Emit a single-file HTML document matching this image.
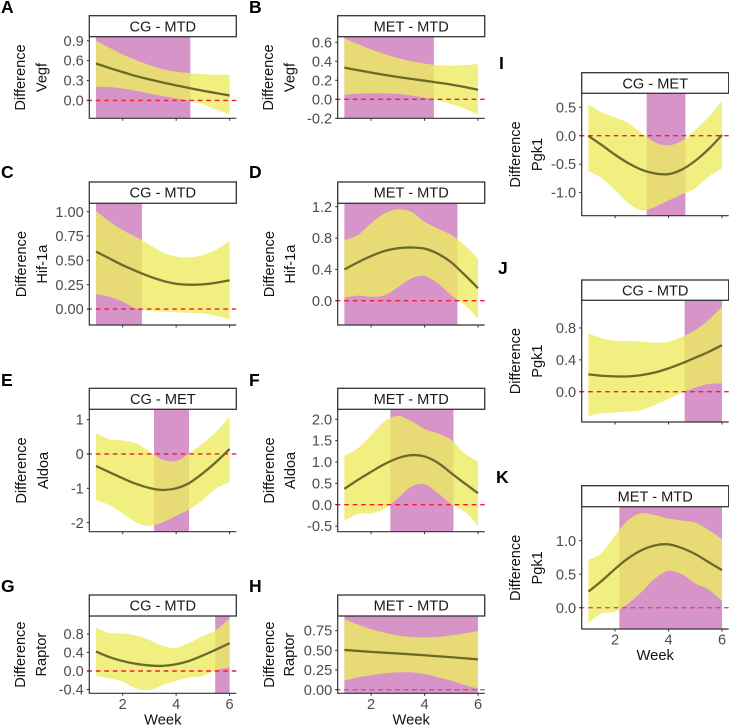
<!DOCTYPE html>
<html>
<head>
<meta charset="utf-8">
<title>Difference by week panels</title>
<style>
html,body{margin:0;padding:0;background:#fff;}
svg{display:block;font-family:"Liberation Sans",sans-serif;}
</style>
</head>
<body>
<svg id="figure" xmlns="http://www.w3.org/2000/svg" width="729" height="725" viewBox="0 0 729 725"></svg>
<script>
const weeks = [1,1.5,2,2.5,3,3.5,4,4.5,5,5.5,6];
const xTicks = [2,4,6];

const fitA = [.557,.49,.427,.367,.317,.27,.226,.186,.146,.11,.075];
const upperA = [.9,.794,.693,.608,.533,.472,.432,.412,.397,.387,.387];
const lowerA = [.206,.2,.18,.146,.105,.065,.03,-.005,-.06,-.136,-.21];
const sigA = [1,4.53];
const ticksA = ["0.0","0.3","0.6","0.9"];
const domainA = [-.27,.961];

const fitB = [.333,.307,.281,.257,.235,.215,.196,.176,.155,.13,.1];
const upperB = [.642,.582,.526,.477,.435,.4,.375,.358,.354,.36,.372];
const lowerB = [.046,.06,.063,.063,.056,.04,.018,-.012,-.05,-.1,-.16];
const sigB = [1,4.35];
const ticksB = ["-0.2","0.0","0.2","0.4","0.6"];
const domainB = [-.2,.659];

const fitC = [.59,.52,.45,.39,.335,.29,.26,.25,.253,.27,.295];
const upperC = [1.01,.9,.81,.74,.66,.58,.54,.53,.555,.61,.7];
const lowerC = [.155,.127,.075,.007,-.017,-.027,-.034,-.038,-.045,-.07,-.106];
const sigC = [1,2.72];
const ticksC = ["0.00","0.25","0.50","0.75","1.00"];
const domainC = [-.164,1.086];

const fitD = [.4,.49,.57,.635,.67,.68,.665,.6,.49,.33,.16];
const upperD = [.775,.84,.99,1.115,1.166,1.136,1.01,.92,.84,.71,.54];
const lowerD = [.04,.065,.05,.07,.17,.285,.315,.22,.07,-.055,-.225];
const sigD = [1,5.23];
const ticksD = ["0.0","0.4","0.8","1.2"];
const domainD = [-.31,1.244];

const fitE = [-.35,-.53,-.71,-.87,-.99,-1.05,-1,-.84,-.56,-.23,.145];
const upperE = [.6,.43,.39,.31,.07,-.17,-.2,.02,.31,.65,1.09];
const lowerE = [-1.34,-1.49,-1.73,-1.99,-2.09,-1.99,-1.8,-1.61,-1.34,-1,-.825];
const sigE = [3.17,4.48];
const ticksE = ["-2","-1","0","1"];
const domainE = [-2.263,1.3];

const fitF = [.37,.58,.77,.95,1.09,1.16,1.13,.98,.74,.5,.27];
const upperF = [1.15,1.32,1.63,1.95,2.08,1.96,1.77,1.67,1.52,1.2,1.02];
const lowerF = [-.375,-.22,-.2,-.1,.15,.42,.48,.27,.01,-.16,-.49];
const sigF = [2.72,5.08];
const ticksF = ["-0.5","0.0","0.5","1.0","1.5","2.0"];
const domainF = [-.632,2.234];

const fitG = [.42,.3,.215,.155,.12,.11,.145,.22,.335,.465,.6];
const upperG = [.935,.82,.81,.77,.67,.54,.5,.61,.755,.885,1.14];
const lowerG = [-.1,-.16,-.23,-.375,-.41,-.3,-.21,-.14,-.11,.02,.08];
const sigG = [5.46,6];
const ticksG = ["-0.4","0.0","0.4","0.8"];
const domainG = [-.482,1.188];

const fitH = [.505,.492,.48,.47,.46,.449,.437,.425,.412,.399,.385];
const upperH = [.895,.83,.767,.725,.686,.67,.665,.67,.69,.716,.746];
const lowerH = [.114,.157,.182,.208,.22,.22,.2,.16,.114,.06,.013];
const sigH = [1,6];
const ticksH = ["0.00","0.25","0.50","0.75"];
const domainH = [-.046,.936];

const fitI = [-.005,-.165,-.335,-.485,-.6,-.665,-.675,-.595,-.44,-.235,.012];
const upperI = [.55,.41,.32,.22,.04,-.12,-.17,-.09,.1,.33,.615];
const lowerI = [-.615,-.75,-.955,-1.19,-1.31,-1.25,-1.14,-1.03,-.925,-.72,-.575];
const sigI = [3.18,4.63];
const ticksI = ["-1.0","-0.5","0.0","0.5"];
const domainI = [-1.406,.745];

const fitJ = [.218,.2,.192,.192,.21,.243,.293,.356,.427,.5,.585];
const upperJ = [.73,.67,.64,.636,.628,.615,.628,.69,.775,.9,1.067];
const lowerJ = [-.305,-.27,-.26,-.25,-.23,-.167,-.09,-.013,.05,.096,.105];
const sigJ = [4.6,6];
const ticksJ = ["0.0","0.4","0.8"];
const domainJ = [-.38,1.147];

const fitK = [.24,.4,.58,.74,.86,.93,.945,.89,.8,.68,.56];
const upperK = [.71,.82,1.08,1.31,1.41,1.38,1.33,1.3,1.27,1.16,1.02];
const lowerK = [-.225,-.085,-.06,.065,.24,.44,.55,.5,.36,.27,.105];
const sigK = [2.16,6];
const ticksK = ["0.0","0.5","1.0"];
const domainK = [-.318,1.507];

const SVGNS = "http://www.w3.org/2000/svg";
const root = document.getElementById("figure");
const PANEL_W = 147;
const X_DOMAIN = [.75,6.25];

function make(parent, tag, attrs, txt) {
  const el = document.createElementNS(SVGNS, tag);
  for (const k in attrs) el.setAttribute(k, attrs[k]);
  if (txt !== undefined) el.textContent = txt;
  parent.appendChild(el);
  return el;
}

function curve(pts) {
  let d = "";
  for (let i = 0; i < pts.length - 1; i++) {
    const p0 = pts[Math.max(i - 1, 0)], p1 = pts[i], p2 = pts[i + 1], p3 = pts[Math.min(i + 2, pts.length - 1)];
    const c1x = p1[0] + (p2[0] - p0[0]) / 6, c1y = p1[1] + (p2[1] - p0[1]) / 6;
    const c2x = p2[0] - (p3[0] - p1[0]) / 6, c2y = p2[1] - (p3[1] - p1[1]) / 6;
    d += "C" + c1x.toFixed(2) + " " + c1y.toFixed(2) + " " + c2x.toFixed(2) + " " + c2y.toFixed(2) + " " + p2[0].toFixed(2) + " " + p2[1].toFixed(2);
  }
  return d;
}

function drawPanel(p) {
  const g = make(root, "g", {});
  
  

  const x = v => p.left + (v - X_DOMAIN[0]) / (X_DOMAIN[1] - X_DOMAIN[0]) * PANEL_W;
  const y = v => p.bottom - (v - p.domain[0]) / (p.domain[1] - p.domain[0]) * (p.bottom - p.top);

  const letter = make(g, "text", {x: p.lx, y: p.ly, "font-size": 17.5, "font-weight": "bold", fill: "#000"}, p.id.toUpperCase());
  
  

  const clip = make(g, "clipPath", {id: "clip-" + p.id});
  make(clip, "rect", {x: p.left, y: p.top, width: PANEL_W, height: p.bottom - p.top});
  const plot = make(g, "g", {"clip-path": "url(#clip-" + p.id + ")"});
  
  

  const sig = make(plot, "rect", {x: x(p.sig[0]), y: p.top, width: x(p.sig[1]) - x(p.sig[0]), height: p.bottom - p.top, fill: "#d694c9"});
  
  

  const up = weeks.map((w, i) => [x(w), y(p.upper[i])]);
  const lo = weeks.map((w, i) => [x(w), y(p.lower[i])]).reverse();
  const bandD = "M" + up[0][0] + " " + up[0][1] + curve(up) + "L" + lo[0][0] + " " + lo[0][1] + curve(lo) + "Z";
  const band = make(plot, "path", {d: bandD, fill: "rgb(236,235,96)", "fill-opacity": .8});
  
  

  const fp = weeks.map((w, i) => [x(w), y(p.fit[i])]);
  const line = make(plot, "path", {d: "M" + fp[0][0] + " " + fp[0][1] + curve(fp), fill: "none", stroke: "#6b6a2c", "stroke-width": 2.3});
  
  

  const zero = make(g, "line", {x1: p.left - 2, x2: p.left + PANEL_W, y1: y(0), y2: y(0), stroke: p.zeroColor, "stroke-width": 1.4, "stroke-dasharray": "4.6 3.9"});
  
  

  const axes = make(g, "path", {d: "M" + p.left + " " + p.top + "V" + p.bottom + "H" + (p.left + PANEL_W), fill: "none", stroke: "#333", "stroke-width": 1.2});
  
  

  p.ticks.forEach(lbl => {
    const v = parseFloat(lbl);
    const tm = make(g, "line", {x1: p.left - 2.5, x2: p.left, y1: y(v), y2: y(v), stroke: "#333", "stroke-width": 1});
    
    
    const tl = make(g, "text", {x: p.left - 5.5, y: y(v) + 5.1, "text-anchor": "end", "font-size": 14.6, fill: "#4d4d4d"}, lbl);
    
    
  });

  xTicks.forEach(v => {
    const tm = make(g, "line", {x1: x(v), x2: x(v), y1: p.bottom, y2: p.bottom + 2.5, stroke: "#333", "stroke-width": 1});
    
    
    if (p.xAxis) {
      const tl = make(g, "text", {x: x(v), y: p.bottom + 15.5, "text-anchor": "middle", "font-size": 14.6, fill: "#4d4d4d"}, String(v));
      
      
    }
  });

  if (p.xAxis) {
    const xt = make(g, "text", {x: p.left + PANEL_W / 2, y: p.bottom + 31, "text-anchor": "middle", "font-size": 14.7, fill: "#111"}, "Week");
    
    
  }

  const strip = make(g, "rect", {x: p.left, y: p.stripTop, width: PANEL_W, height: p.top - p.stripTop, fill: "#fff", stroke: "#333", "stroke-width": 1.3});
  
  
  const st = make(g, "text", {x: p.left + PANEL_W / 2, y: p.stripTop + 15.6, "text-anchor": "middle", "font-size": 14.6, fill: "#1a1a1a"}, p.title);
  
  

  const cy = (p.top + p.bottom) / 2;
  const yt1 = make(g, "text", {transform: "translate(" + p.y1 + " " + cy + ") rotate(-90)", "text-anchor": "middle", "font-size": 14.6, fill: "#111"}, "Difference");
  
  
  const yt2 = make(g, "text", {transform: "translate(" + p.y2 + " " + cy + ") rotate(-90)", "text-anchor": "middle", "font-size": 14.6, fill: "#111"}, p.gene);
  
  
}

const RED = "#f8182f";
const MUTED = "#dd4a72";
[
  {id:"a",title:"CG - MTD",gene:"Vegf",fit:fitA,upper:upperA,lower:lowerA,sig:sigA,ticks:ticksA,domain:domainA,left:89.3,stripTop:15.7,top:36.7,bottom:118.3,lx:1,ly:13,y1:25,y2:46.5,zeroColor:RED},
  {id:"b",title:"MET - MTD",gene:"Vegf",fit:fitB,upper:upperB,lower:lowerB,sig:sigB,ticks:ticksB,domain:domainB,left:337.7,stripTop:15.7,top:36.7,bottom:118.3,lx:249,ly:13,y1:273,y2:294.5,zeroColor:RED},
  {id:"c",title:"CG - MTD",gene:"Hif-1a",fit:fitC,upper:upperC,lower:lowerC,sig:sigC,ticks:ticksC,domain:domainC,left:89.3,stripTop:182,top:203.3,bottom:325,lx:1,ly:178,y1:26,y2:47,zeroColor:RED},
  {id:"d",title:"MET - MTD",gene:"Hif-1a",fit:fitD,upper:upperD,lower:lowerD,sig:sigD,ticks:ticksD,domain:domainD,left:337.7,stripTop:182,top:203.3,bottom:325,lx:249,ly:178,y1:274,y2:295,zeroColor:RED},
  {id:"e",title:"CG - MET",gene:"Aldoa",fit:fitE,upper:upperE,lower:lowerE,sig:sigE,ticks:ticksE,domain:domainE,left:89.3,stripTop:388.3,top:409.3,bottom:531.7,lx:1,ly:386,y1:26,y2:48,zeroColor:RED},
  {id:"f",title:"MET - MTD",gene:"Aldoa",fit:fitF,upper:upperF,lower:lowerF,sig:sigF,ticks:ticksF,domain:domainF,left:337.7,stripTop:388.3,top:409.3,bottom:531.7,lx:249,ly:386,y1:274,y2:295,zeroColor:RED},
  {id:"g",title:"CG - MTD",gene:"Raptor",fit:fitG,upper:upperG,lower:lowerG,sig:sigG,ticks:ticksG,domain:domainG,left:89.3,stripTop:595,top:616,bottom:693.3,lx:1,ly:592,y1:25,y2:46,zeroColor:RED,xAxis:true},
  {id:"h",title:"MET - MTD",gene:"Raptor",fit:fitH,upper:upperH,lower:lowerH,sig:sigH,ticks:ticksH,domain:domainH,left:337.7,stripTop:595,top:616,bottom:693.3,lx:249,ly:592,y1:274,y2:294,zeroColor:MUTED,xAxis:true},
  {id:"i",title:"CG - MET",gene:"Pgk1",fit:fitI,upper:upperI,lower:lowerI,sig:sigI,ticks:ticksI,domain:domainI,left:581.7,stripTop:72.7,top:93.3,bottom:215.7,lx:499,ly:69,y1:520,y2:542,zeroColor:RED},
  {id:"j",title:"CG - MTD",gene:"Pgk1",fit:fitJ,upper:upperJ,lower:lowerJ,sig:sigJ,ticks:ticksJ,domain:domainJ,left:581.7,stripTop:280,top:300.3,bottom:422,lx:498,ly:274,y1:520,y2:542,zeroColor:RED},
  {id:"k",title:"MET - MTD",gene:"Pgk1",fit:fitK,upper:upperK,lower:lowerK,sig:sigK,ticks:ticksK,domain:domainK,left:581.7,stripTop:485.7,top:506.7,bottom:629,lx:496,ly:483,y1:520,y2:542,zeroColor:MUTED,xAxis:true}
].forEach(drawPanel);
</script>
</body>
</html>
